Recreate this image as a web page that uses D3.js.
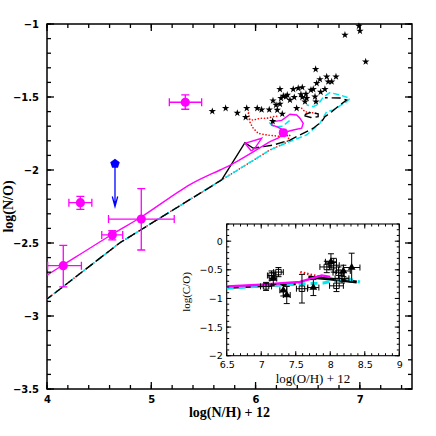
<!DOCTYPE html>
<html>
<head>
<meta charset="utf-8">
<script src="https://cdn.jsdelivr.net/npm/d3@7/dist/d3.min.js"></script>
</head>
<body style="margin:0">
<div id="chart"></div>
<script>
// observed points (magenta, with error bars)
const obsX   = [4.156, 4.32, 4.626, 4.904, 5.326, 6.266];
const obsY   = [-2.655, -2.224, -2.445, -2.336, -1.536, -1.745];
const obsXlo = [4.006, 4.21, 4.525, 4.59, 5.173, 6.24];
const obsXhi = [4.33, 4.43, 4.726, 5.22, 5.483, 6.29];
const obsYlo = [-2.80, -2.27, -2.479, -2.548, -1.584, -1.76];
const obsYhi = [-2.516, -2.18, -2.416, -2.128, -1.486, -1.73];

// upper limit (blue pentagon)
const limX = [4.652];
const limY = [-1.957];
const limTo = [-2.25];

// stars
const starX = [5.585, 5.713, 5.825, 5.915, 5.905, 6.016, 6.058, 6.131, 6.164, 6.167, 6.196, 6.208,
  6.234, 6.234, 6.244, 6.256, 6.266, 6.291, 6.304, 6.330, 6.361, 6.371, 6.394, 6.409, 6.435, 6.448,
  6.448, 6.474, 6.483, 6.490, 6.531, 6.553, 6.570, 6.579, 6.576, 6.586, 6.617, 6.624, 6.665, 6.682,
  6.697, 6.730, 6.771, 6.857, 6.991, 7.001, 7.056];
const starY = [-1.598, -1.577, -1.610, -1.577, -1.639, -1.577, -1.587, -1.587, -1.666, -1.525, -1.555, -1.589,
  -1.447, -1.548, -1.509, -1.616, -1.493, -1.498, -1.486, -1.521, -1.447, -1.502, -1.577, -1.440, -1.482, -1.434,
  -1.502, -1.532, -1.479, -1.509, -1.452, -1.447, -1.498, -1.532, -1.310, -1.406, -1.379, -1.466, -1.447, -1.361,
  -1.395, -1.395, -1.361, -1.075, -1.014, -1.048, -1.258];

// model tracks
const magentaMain = [[4, -2.72], [4.156, -2.65], [4.626, -2.44], [4.904, -2.322], [5.371, -2.1],
  [5.659, -2.0], [5.771, -1.962], [6.138, -1.806]];
const magentaTrack = [[6.138, -1.806], [6.22, -1.78], [6.266, -1.755], [6.298, -1.738], [6.362, -1.726], [6.442, -1.714],
  [6.457, -1.68], [6.426, -1.646], [6.394, -1.623], [6.33, -1.618], [6.298, -1.635], [6.25, -1.66],
  [6.17, -1.669], [6.154, -1.692], [6.202, -1.703], [6.25, -1.72], [6.266, -1.74]];
const magentaLoop = [[5.96, -1.87], [5.898, -1.817], [6.058, -1.783], [5.994, -1.85], [5.96, -1.87]];

const blackTrack = [[4, -2.884], [4.7, -2.498], [5.675, -2.068]];
const blackKink = [[5.675, -2.068], [5.898, -1.813], [5.978, -1.851]];
const blackUpper = [[5.978, -1.851], [6.17, -1.829], [6.33, -1.795], [6.426, -1.76], [6.553, -1.714],
  [6.634, -1.669], [6.665, -1.635], [6.73, -1.601], [6.809, -1.555], [6.873, -1.521], [6.809, -1.507],
  [6.665, -1.505]];
const blackLoop = [[6.475, -1.62], [6.52, -1.607], [6.6, -1.615], [6.6, -1.635], [6.53, -1.64], [6.475, -1.63], [6.475, -1.62]];

const cyanTrack = [[4, -2.884], [4.7, -2.498], [5.675, -2.068], [6.138, -1.863], [6.266, -1.824],
  [6.362, -1.795], [6.49, -1.76], [6.617, -1.68], [6.682, -1.601], [6.745, -1.589], [6.873, -1.532],
  [6.905, -1.509], [6.809, -1.486], [6.713, -1.47], [6.65, -1.5], [6.6, -1.55], [6.553, -1.566], [6.49, -1.555]];
const cyanBit = [[6.13, -1.675], [6.18, -1.705], [6.26, -1.70], [6.33, -1.66]];

const redTrack = [[4, -2.884], [4.7, -2.498], [5.675, -2.068], [6.138, -1.863], [6.30, -1.81], [6.33, -1.76],
  [6.266, -1.772], [6.17, -1.765], [6.106, -1.76], [6.026, -1.749], [5.978, -1.714], [5.95, -1.68],
  [5.935, -1.64], [5.93, -1.60], [5.945, -1.655], [5.978, -1.658], [6.042, -1.646], [6.106, -1.646],
  [6.17, -1.635], [6.22, -1.63]];
const redBit = [[6.442, -1.577], [6.474, -1.601], [6.586, -1.612]];

// axis ticks
const xTicks = [4, 5, 6, 7];
const yTicks = [-1, -1.5, -2, -2.5, -3, -3.5];
const insetXTicks = [6.5, 7, 7.5, 8, 8.5, 9];
const insetYTicks = [0, -0.5, -1, -1.5, -2];

// inset: C/O points
const sqX  = [7.07, 7.25, 7.15, 7.59, 7.95, 8.05, 8.12, 8.17, 8.09];
const sqY  = [-0.79, -0.54, -0.60, -0.83, -0.45, -0.42, -0.55, -0.65, -0.78];
const sqXe = [0.08, 0.07, 0.06, 0.08, 0.1, 0.08, 0.08, 0.1, 0.1];
const sqYe = [0.07, 0.08, 0.08, 0.25, 0.1, 0.12, 0.1, 0.08, 0.1];
const triX  = [7.175, 7.32, 7.37, 7.755, 8.01, 8.31, 8.19];
const triY  = [-0.654, -0.857, -0.94, -0.81, -0.36, -0.46, -0.52];
const triXe = [0.05, 0.05, 0.05, 0.08, 0.08, 0.12, 0.1];
const triYe = [0.1, 0.1, 0.15, 0.14, 0.14, 0.25, 0.1];

const insetMagenta = [[6.5, -0.79], [7.0, -0.76], [7.56, -0.713], [7.877, -0.597], [8.0, -0.626]];
const insetBlack = [[6.5, -0.81], [7.0, -0.78], [7.5, -0.745]];
const insetBlack2 = [[7.683, -0.626], [8.0, -0.66], [8.384, -0.713]];
const insetCyan = [[6.5, -0.82], [7.0, -0.785], [7.5, -0.75], [7.9, -0.73], [8.24, -0.654], [8.43, -0.713]];
const insetRed = [[7.566, -0.539], [7.7, -0.58], [7.877, -0.626]];

let svg = d3.select("#chart").append("svg").attr("width", 436).attr("height", 436);

let x = d3.scaleLinear().domain([4, 7.5]).range([47, 412]);
let y = d3.scaleLinear().domain([-3.5, -1]).range([389, 24]);
let ix = d3.scaleLinear().domain([6.5, 9]).range([226.7, 399.3]);
let iy = d3.scaleLinear().domain([-2, 0.3]).range([355.7, 224]);

// main frame and labels
drawBox(x, y, 1.5);
drawLabels(x, y, xTicks, yTicks, "bold 10px 'DejaVu Sans'", 7, 8);

let line = d3.line().x(d => x(d[0])).y(d => y(d[1]));

// tracks: red dotted, cyan dashed, black dashed, magenta solid
[redTrack, redBit].forEach(t => {
    svg.append("path").attr("d", line(t)).attr("fill", "none")
        .attr("stroke", "red").attr("stroke-width", 1.6)
        .attr("stroke-dasharray", "0.1,3").attr("stroke-linecap", "round");
});
[cyanTrack, cyanBit].forEach(t => {
    svg.append("path").attr("d", line(t)).attr("fill", "none")
        .attr("stroke", "#00e8f0").attr("stroke-width", 1.5)
        .attr("stroke-dasharray", "6,3");
});
[blackTrack, blackUpper, blackLoop].forEach(t => {
    svg.append("path").attr("d", line(t)).attr("fill", "none")
        .attr("stroke", "black").attr("stroke-width", 1.4)
        .attr("stroke-dasharray", "9,4").attr("stroke-dashoffset", 3);
});
svg.append("path").attr("d", line(blackKink)).attr("fill", "none")
    .attr("stroke", "black").attr("stroke-width", 1.4);
svg.append("path").attr("d", line.curve(d3.curveCatmullRom)(magentaMain)).attr("fill", "none")
    .attr("stroke", "magenta").attr("stroke-width", 1.4);
line.curve(d3.curveLinear);
[magentaTrack, magentaLoop].forEach(t => {
    svg.append("path").attr("d", line(t)).attr("fill", "none")
        .attr("stroke", "magenta").attr("stroke-width", 1.4);
});

// stars
svg.selectAll(null)
    .data(d3.zip(starX, starY))
    .enter()
    .append("path")
    .attr("d", d3.symbol(d3.symbolStar).size(17))
    .attr("transform", d => "translate(" + x(d[0]) + "," + y(d[1]) + ")")
    .attr("fill", "black");

// magenta points with error bars
obsX.forEach((v, i) => {
    let cx = x(v), cy = y(obsY[i]), c = 4;
    svg.append("path")
        .attr("d", "M" + x(obsXlo[i]) + "," + cy + "H" + x(obsXhi[i])
            + "M" + x(obsXlo[i]) + "," + (cy - c) + "V" + (cy + c)
            + "M" + x(obsXhi[i]) + "," + (cy - c) + "V" + (cy + c)
            + "M" + cx + "," + y(obsYlo[i]) + "V" + y(obsYhi[i])
            + "M" + (cx - c) + "," + y(obsYlo[i]) + "H" + (cx + c)
            + "M" + (cx - c) + "," + y(obsYhi[i]) + "H" + (cx + c))
        .attr("stroke", "magenta").attr("stroke-width", 1.3).attr("fill", "none");
    svg.append("circle").attr("cx", cx).attr("cy", cy).attr("r", 4.6).attr("fill", "magenta");
});

// blue upper limit
limX.forEach((v, i) => {
    let cx = x(v), cy = y(limY[i]), ty = y(limTo[i]);
    let pts = d3.range(5).map(k => {
        let a = -Math.PI / 2 + k * 2 * Math.PI / 5;
        return [cx + 5 * Math.cos(a), cy + 5 * Math.sin(a)];
    });
    svg.append("path").attr("d", "M" + pts.join("L") + "Z").attr("fill", "blue");
    svg.append("path")
        .attr("d", "M" + cx + "," + cy + "V" + ty + "M" + (cx - 2.7) + "," + (ty - 10) + "L" + cx + "," + ty + "L" + (cx + 2.7) + "," + (ty - 10))
        .attr("stroke", "blue").attr("stroke-width", 1.3).attr("fill", "none");
});

// axis titles
svg.append("text")
    .attr("x", 229.5).attr("y", 417)
    .attr("text-anchor", "middle")
    .style("font", "bold 14px 'Liberation Serif'")
    .text("log(N/H) + 12");
svg.append("text")
    .attr("transform", "translate(13,206.5) rotate(-90)")
    .attr("text-anchor", "middle")
    .style("font", "bold 14px 'Liberation Serif'")
    .text("log(N/O)");

// inset
svg.append("rect").attr("x", 226.7).attr("y", 224).attr("width", 172.6).attr("height", 131.7).attr("fill", "white");
drawBox(ix, iy, 1.1);
drawLabels(ix, iy, insetXTicks, insetYTicks, "9.5px 'DejaVu Sans'", 6, 4);

let iline = d3.line().x(d => ix(d[0])).y(d => iy(d[1]));
svg.append("path").attr("d", iline(insetRed)).attr("fill", "none").attr("stroke", "red")
    .attr("stroke-width", 2.4).attr("stroke-dasharray", "1.5,2");
[insetBlack, insetBlack2].forEach(t => {
    svg.append("path").attr("d", iline(t)).attr("fill", "none").attr("stroke", "black").attr("stroke-width", 3);
});
svg.append("path").attr("d", iline(insetCyan)).attr("fill", "none").attr("stroke", "#00e8f0")
    .attr("stroke-width", 3).attr("stroke-dasharray", "7,5");
svg.append("path").attr("d", iline(insetMagenta)).attr("fill", "none").attr("stroke", "magenta").attr("stroke-width", 2.4);

// inset error bars and symbols
function errPath(px, py, xe, ye) {
    let cx = ix(px), cy = iy(py), c = 3;
    return "M" + ix(px - xe) + "," + cy + "H" + ix(px + xe)
        + "M" + ix(px - xe) + "," + (cy - c) + "V" + (cy + c)
        + "M" + ix(px + xe) + "," + (cy - c) + "V" + (cy + c)
        + "M" + cx + "," + iy(py - ye) + "V" + iy(py + ye)
        + "M" + (cx - c) + "," + iy(py - ye) + "H" + (cx + c)
        + "M" + (cx - c) + "," + iy(py + ye) + "H" + (cx + c);
}
sqX.forEach((v, i) => {
    svg.append("path").attr("d", errPath(v, sqY[i], sqXe[i], sqYe[i]))
        .attr("stroke", "black").attr("stroke-width", 1).attr("fill", "none");
    svg.append("path").attr("d", d3.symbol(d3.symbolSquare).size(30))
        .attr("transform", "translate(" + ix(v) + "," + iy(sqY[i]) + ")")
        .attr("fill", "none").attr("stroke", "black").attr("stroke-width", 1);
});
triX.forEach((v, i) => {
    svg.append("path").attr("d", errPath(v, triY[i], triXe[i], triYe[i]))
        .attr("stroke", "black").attr("stroke-width", 1).attr("fill", "none");
    svg.append("path").attr("d", d3.symbol(d3.symbolTriangle).size(26))
        .attr("transform", "translate(" + ix(v) + "," + iy(triY[i]) + ")")
        .attr("fill", "black");
});

svg.append("text")
    .attr("x", 313).attr("y", 382.7)
    .attr("text-anchor", "middle")
    .style("font", "13px 'Liberation Serif'")
    .text("log(O/H) + 12");
svg.append("text")
    .attr("transform", "translate(190,292) rotate(-90)")
    .attr("text-anchor", "middle")
    .style("font", "11px 'Liberation Serif'")
    .text("log(C/O)");

// ticks last, on top of everything
drawTicks(x, y, d3.range(4, 7.51, 0.2), xTicks, d3.range(-3.5, -0.99, 0.1), yTicks, 4, 7, 1.3);
drawTicks(ix, iy, d3.range(6.5, 9.01, 0.1), insetXTicks, d3.range(-2, 0.31, 0.1), insetYTicks, 2.5, 4.5, 1);

function drawBox(sx, sy, w) {
    let r = sx.range(), q = sy.range();
    svg.append("rect")
        .attr("x", r[0]).attr("y", q[1])
        .attr("width", r[1] - r[0]).attr("height", q[0] - q[1])
        .attr("fill", "none").attr("stroke", "black").attr("stroke-width", w);
}

function drawLabels(sx, sy, xt, yt, font, padX, padY) {
    let fmt = d3.format("~g");
    let gx = svg.append("g").attr("transform", "translate(0," + sy.range()[0] + ")")
        .call(d3.axisBottom(sx).tickValues(xt).tickSize(0).tickPadding(padX).tickFormat(fmt));
    let gy = svg.append("g").attr("transform", "translate(" + sx.range()[0] + ",0)")
        .call(d3.axisLeft(sy).tickValues(yt).tickSize(0).tickPadding(padY).tickFormat(fmt));
    [gx, gy].forEach(g => {
        g.select(".domain").remove();
        g.selectAll("text").style("font", font).attr("fill", "black");
    });
}

function drawTicks(sx, sy, minX, majX, minY, majY, small, big, w) {
    let r = sx.range(), q = sy.range();
    let xt = minX.map(v => [v, small]).concat(majX.map(v => [v, big]));
    let yt = minY.map(v => [v, small]).concat(majY.map(v => [v, big]));
    // bottom and top
    svg.selectAll(null).data(xt).enter().append("line")
        .attr("x1", d => sx(d[0])).attr("x2", d => sx(d[0]))
        .attr("y1", q[0]).attr("y2", d => q[0] - d[1])
        .attr("stroke", "black").attr("stroke-width", w);
    svg.selectAll(null).data(xt).enter().append("line")
        .attr("x1", d => sx(d[0])).attr("x2", d => sx(d[0]))
        .attr("y1", q[1]).attr("y2", d => q[1] + d[1])
        .attr("stroke", "black").attr("stroke-width", w);
    // left and right
    svg.selectAll(null).data(yt).enter().append("line")
        .attr("x1", r[0]).attr("x2", d => r[0] + d[1])
        .attr("y1", d => sy(d[0])).attr("y2", d => sy(d[0]))
        .attr("stroke", "black").attr("stroke-width", w);
    svg.selectAll(null).data(yt).enter().append("line")
        .attr("x1", r[1]).attr("x2", d => r[1] - d[1])
        .attr("y1", d => sy(d[0])).attr("y2", d => sy(d[0]))
        .attr("stroke", "black").attr("stroke-width", w);
}
</script>
</body>
</html>
